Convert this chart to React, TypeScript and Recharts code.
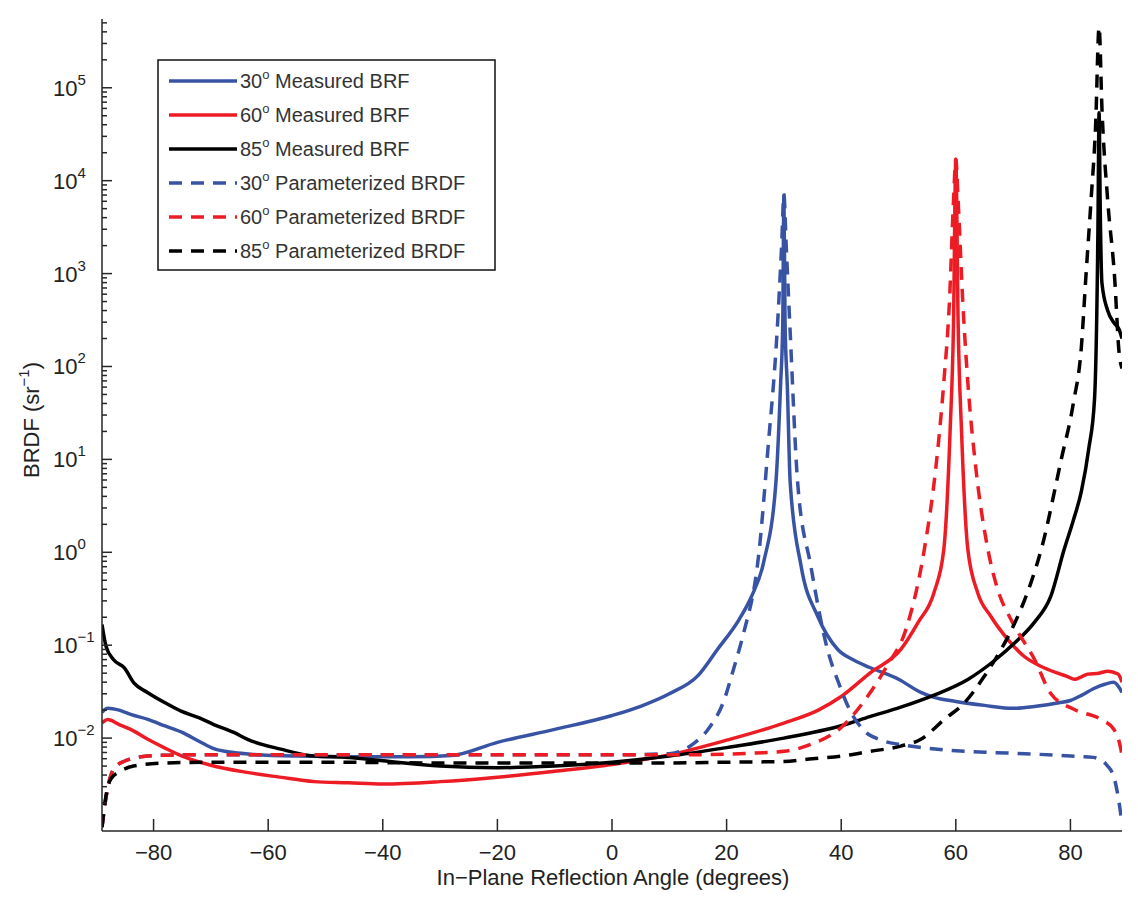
import { LineChart, Line, XAxis, YAxis, Legend } from "recharts";

const FONT = "'Liberation Sans', Arial, Helvetica, sans-serif";
const AXIS = "#262626";
const BLUE = "#3853a4";
const RED = "#ed1c24";
const BLACK = "#000000";

// 30° measured BRF
const M30_X = [-89, -88, -86, -84, -81, -78, -75, -72, -69.5, -66, -63, -55, -45, -35, -28, -20, -10, 0, 5, 10, 15, 18.4, 22.2, 24.3, 26.5, 28.6, 29.4, 29.8, 30, 30.2, 30.6, 31.1, 33, 35.9, 39.4, 42, 45, 50, 53.9, 56.2, 60, 65, 70, 74, 78, 80, 82, 84, 86, 87.5, 88.5, 89];
const M30_Y = [0.019, 0.021, 0.02, 0.018, 0.0159, 0.0135, 0.0115, 0.0092, 0.0077, 0.007, 0.0067, 0.0064, 0.0063, 0.0063, 0.0065, 0.009, 0.0124, 0.0175, 0.022, 0.03, 0.047, 0.09, 0.19, 0.33, 0.8, 5.6, 60, 300, 7000, 300, 60, 5.6, 0.71, 0.205, 0.09, 0.07, 0.0575, 0.043, 0.031, 0.0274, 0.0248, 0.0225, 0.0209, 0.022, 0.024, 0.0254, 0.029, 0.034, 0.038, 0.0398, 0.035, 0.031];

// 60° measured BRF
const M60_X = [-89, -88, -86, -84, -81, -78, -75, -70, -64, -58, -52, -46, -40, -30, -20, -10, 0, 10, 20, 30, 36, 40, 45, 50.4, 53.4, 56.2, 57.9, 59, 59.6, 60, 60.4, 61, 62.1, 63.8, 66.1, 69.1, 71.9, 74.9, 77.8, 79.5, 80.7, 82, 83, 85, 86.5, 88.3, 89];
const M60_Y = [0.0146, 0.0159, 0.014, 0.0124, 0.0097, 0.0078, 0.0064, 0.0051, 0.0043, 0.0038, 0.0034, 0.0033, 0.0032, 0.0034, 0.0038, 0.0044, 0.0052, 0.0066, 0.0095, 0.0145, 0.02, 0.028, 0.05, 0.09, 0.175, 0.37, 1.07, 20, 300, 17000, 300, 20, 1.07, 0.37, 0.205, 0.115, 0.076, 0.059, 0.05, 0.046, 0.043, 0.046, 0.0488, 0.05, 0.0525, 0.049, 0.04];

// 85° measured BRF
const M85_X = [-89, -88.3, -87, -85.1, -83.4, -81, -78, -75.2, -72, -69.5, -66, -63.6, -57.8, -52, -46, -40, -30, -20, -10, 0, 10, 20, 30, 40, 45, 50.4, 56.2, 62.1, 66.7, 70.3, 73.7, 76.6, 78.9, 80.5, 81.9, 83.2, 84.2, 84.8, 85, 85.2, 85.5, 86.5, 87.6, 88.5, 89];
const M85_Y = [0.167, 0.0975, 0.07, 0.057, 0.039, 0.0308, 0.024, 0.0195, 0.0165, 0.014, 0.0115, 0.0097, 0.0076, 0.0064, 0.0062, 0.0057, 0.005, 0.0048, 0.005, 0.0055, 0.0064, 0.0079, 0.01, 0.0136, 0.017, 0.0215, 0.029, 0.0428, 0.068, 0.106, 0.176, 0.34, 1.07, 2.2, 4.5, 13, 44, 3000, 54000, 5000, 790, 400, 295, 250, 200];

// 30° parameterized BRDF
const P30_X = [-89, -88.3, -87, -85.2, -81, -75, -60, -40, -20, 0, 10, 14, 17, 19.5, 21, 22.2, 23, 25.7, 27.2, 28.8, 29.6, 30, 30.4, 31.1, 32.4, 34.7, 37.6, 39.5, 41.5, 44, 47, 50.4, 55, 60, 66, 72, 80, 84, 86.5, 87.7, 88.5, 89];
const P30_Y = [0.0011, 0.0023, 0.0046, 0.0056, 0.0064, 0.0066, 0.0066, 0.0066, 0.0066, 0.0066, 0.0068, 0.0085, 0.013, 0.025, 0.05, 0.09, 0.137, 1.07, 12.7, 230, 2000, 7000, 2000, 230, 5.6, 0.71, 0.09, 0.04, 0.02, 0.012, 0.0095, 0.0085, 0.0078, 0.0073, 0.007, 0.0068, 0.0064, 0.0062, 0.005, 0.0036, 0.002, 0.0012];

// 60° parameterized BRDF
const P60_X = [-89, -88.3, -87, -85.2, -81, -75, -60, -40, -20, 0, 10, 20, 25, 30, 35, 40, 44, 48, 51.3, 54.5, 56.5, 57.9, 58.9, 59.6, 60, 60.4, 61.2, 62.1, 63.5, 65.6, 67.3, 69.6, 73.7, 76.6, 80.6, 85.3, 87.6, 88.8, 89];
const P60_Y = [0.0011, 0.0023, 0.0046, 0.0056, 0.0064, 0.0066, 0.0066, 0.0066, 0.0066, 0.0066, 0.0066, 0.0067, 0.0069, 0.0072, 0.0087, 0.013, 0.025, 0.06, 0.148, 1.07, 8, 67, 520, 6200, 17000, 6200, 520, 67, 8, 1.07, 0.4, 0.19, 0.071, 0.03, 0.0204, 0.0159, 0.0124, 0.0076, 0.0065];

// 85° parameterized BRDF
const P85_X = [-89, -88.3, -87.5, -85.8, -83.5, -78, -70, -50, -30, -10, 0, 10, 20, 30, 35, 40, 45, 50.4, 53.9, 58, 61.5, 65, 67.9, 70.3, 73.1, 74.9, 78.4, 80.5, 81.9, 82.7, 83.6, 84.4, 85, 85.5, 86.5, 87.7, 88.5, 89];
const P85_Y = [0.0011, 0.0024, 0.0036, 0.0044, 0.005, 0.0054, 0.0055, 0.0055, 0.0054, 0.0054, 0.0054, 0.0054, 0.0055, 0.0056, 0.006, 0.0064, 0.0072, 0.0082, 0.0097, 0.0159, 0.024, 0.0465, 0.09, 0.174, 0.469, 1.07, 10, 40, 160, 930, 6200, 40000, 450000, 60000, 6200, 930, 140, 95];

const X_TICKS = [-80, -60, -40, -20, 0, 20, 40, 60, 80];
const Y_DOMAIN = [1e-3, 5.5e5];
// decades + minor ticks 2..9 (10^-3 sits on the x axis, skipped)
const Y_TICKS: number[] = [];
for (let e = -3; e <= 5; e++) {
  for (let m = 1; m <= 9; m++) {
    const v = m * Math.pow(10, e);
    if (v > Y_DOMAIN[0] && v <= Y_DOMAIN[1]) Y_TICKS.push(v);
  }
}

const zip = (xs: number[], ys: number[]) => xs.map((x, i) => ({ x, y: ys[i] }));

const SERIES = [
  { key: "m30", deg: "30", text: "Measured BRF", color: BLUE, dash: undefined, data: zip(M30_X, M30_Y) },
  { key: "m60", deg: "60", text: "Measured BRF", color: RED, dash: undefined, data: zip(M60_X, M60_Y) },
  { key: "m85", deg: "85", text: "Measured BRF", color: BLACK, dash: undefined, data: zip(M85_X, M85_Y) },
  { key: "p30", deg: "30", text: "Parameterized BRDF", color: BLUE, dash: "13 9", data: zip(P30_X, P30_Y) },
  { key: "p60", deg: "60", text: "Parameterized BRDF", color: RED, dash: "13 9", data: zip(P60_X, P60_Y) },
  { key: "p85", deg: "85", text: "Parameterized BRDF", color: BLACK, dash: "13 9", data: zip(P85_X, P85_Y) },
];

function XTick(props: any) {
  const { x, y, payload } = props;
  const v = payload.value;
  const label = v < 0 ? "\u2212" + Math.abs(v) : String(v);
  return (
    <g>
      <line x1={x} x2={x} y1={y} y2={y - 12} stroke={AXIS} strokeWidth={1.5} />
      <text x={x} y={y + 29} textAnchor="middle" fontFamily={FONT} fontSize={22} fill="#222">{label}</text>
    </g>
  );
}

function YTick(props: any) {
  const { x, y, payload } = props;
  const lg = Math.log10(payload.value);
  const e = Math.round(lg);
  const major = Math.abs(lg - e) < 1e-6;
  const exp = e < 0 ? "\u2212" + Math.abs(e) : String(e);
  return (
    <g>
      <line x1={x} x2={x + (major ? 10 : 5)} y1={y} y2={y} stroke={AXIS} strokeWidth={1.5} />
      {major && (
        <text x={x - 49} y={y + 8} fontFamily={FONT} fontSize={22} fill="#222">
          10<tspan dy={-11} fontSize={15}>{exp}</tspan>
        </text>
      )}
    </g>
  );
}

const xLabel = () => (
  <text x={605} y={877} textAnchor="middle" fontFamily={FONT} fontSize={22} fill="#222">
    In{"\u2212"}Plane Reflection Angle (degrees)
  </text>
);

const yLabel = () => (
  <text transform="translate(31,412) rotate(-90)" textAnchor="middle" fontFamily={FONT} fontSize={22} fill="#222">
    BRDF (sr<tspan dy={-10} fontSize={15}>{"\u2212"}1</tspan><tspan dy={10}>)</tspan>
  </text>
);

function LegendBox() {
  return (
    <svg width={340} height={213} style={{ display: "block" }}>
      <rect x={1} y={1} width={337} height={210} fill="#fff" stroke="#111" strokeWidth={1.5} />
      {SERIES.map((s, i) => {
        const cy = 22 + i * 34;
        return (
          <g key={s.key}>
            <line x1={12} x2={80} y1={cy} y2={cy} stroke={s.color} strokeWidth={3.5} strokeDasharray={s.dash} />
            <text x={83} y={cy + 7} fontFamily={FONT} fontSize={20} fill="#333">
              {s.deg}
              <tspan dy={-9} fontSize={13}>o</tspan>
              <tspan dy={9}> {s.text}</tspan>
            </text>
          </g>
        );
      })}
    </svg>
  );
}

export default function App() {
  return (
    <div style={{ width: 1122, height: 882, position: "relative", background: "#fff" }}>
      <LineChart width={1122} height={882} margin={{ top: 11, right: 8, bottom: 0, left: 0 }}>
        <XAxis
          type="number"
          dataKey="x"
          domain={[-89, 89]}
          ticks={X_TICKS}
          interval={0}
          allowDataOverflow
          height={59}
          tickSize={0}
          tickMargin={0}
          tickLine={false}
          tick={<XTick />}
          axisLine={{ stroke: AXIS, strokeWidth: 1.5 }}
          label={xLabel}
        />
        <YAxis
          type="number"
          scale="log"
          domain={Y_DOMAIN}
          ticks={Y_TICKS}
          interval={0}
          allowDataOverflow
          width={94}
          tickSize={0}
          tickMargin={0}
          tickLine={false}
          tick={<YTick />}
          axisLine={{ stroke: AXIS, strokeWidth: 1.5 }}
          label={yLabel}
        />
        <Legend
          layout="vertical"
          align="center"
          verticalAlign="middle"
          content={() => <LegendBox />}
          wrapperStyle={{ left: 149, top: 51, width: 340, height: 213 }}
        />
        {SERIES.map((s) => (
          <Line
            key={s.key}
            data={s.data}
            dataKey="y"
            name={s.deg + "\u00b0 " + s.text}
            type="monotone"
            stroke={s.color}
            strokeWidth={3.5}
            strokeDasharray={s.dash}
            dot={false}
            activeDot={false}
            isAnimationActive={false}
          />
        ))}
      </LineChart>
    </div>
  );
}
